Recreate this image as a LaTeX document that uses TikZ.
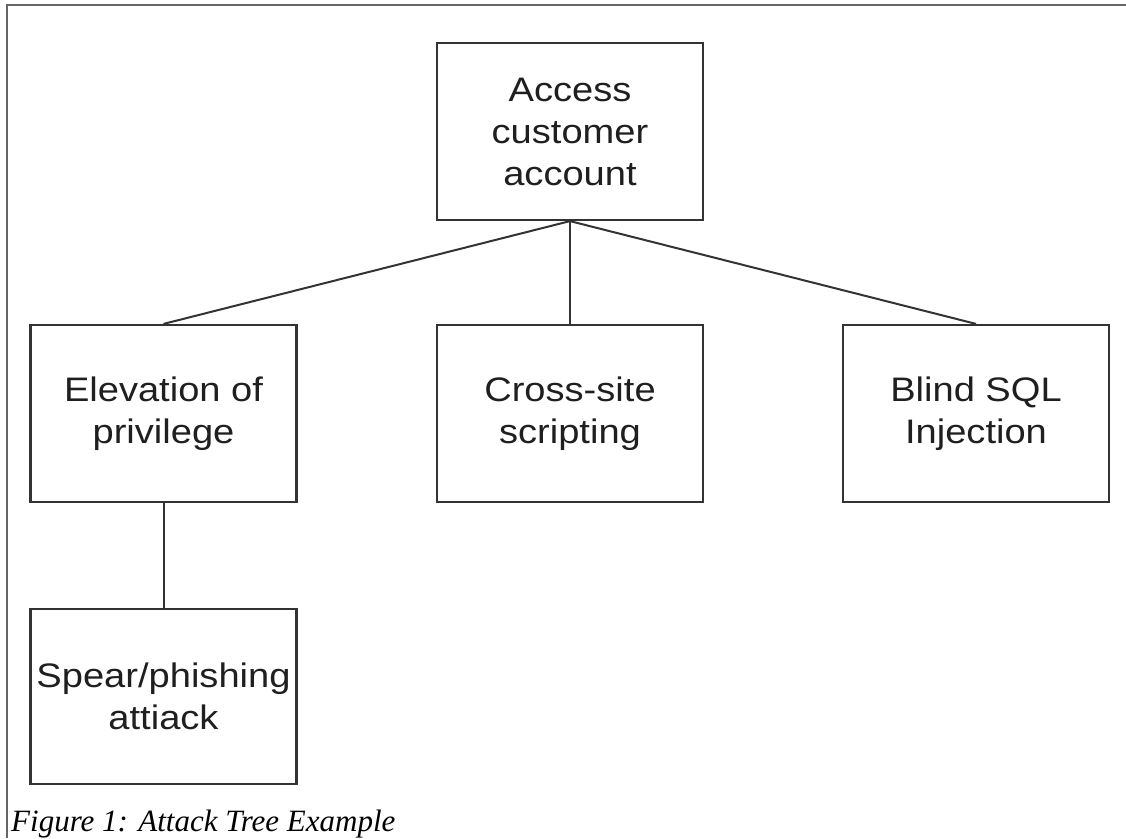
\documentclass[tikz,border=0pt]{standalone}
\usepackage{fontspec}
\setmainfont{Liberation Serif}
\newfontfamily\boxfont[FakeStretch=1.12]{Liberation Sans}
\definecolor{boxline}{HTML}{333333}
\definecolor{frameline}{HTML}{666666}

\begin{document}
\begin{tikzpicture}[x=1pt, y=-1pt,
	attack/.style={draw=boxline, line width=2.2pt, rectangle, minimum width=266pt, minimum height=177pt, inner sep=0pt, align=center, text=black!88, font=\boxfont\fontsize{34}{42}\selectfont},
	branch/.style={boxline, line width=2pt}]
				\useasboundingbox (0,0) rectangle (1126,838);
				\draw[frameline, line width=2.2pt] (7,838) -- (7,5) -- (1126,5);
				\node[attack] (A)at(570, 131.5) {Access\\customer\\account};
				\node[attack] (B)at(163.5, 413.5) {Elevation of\\privilege};
				\node[attack] (C)at(570, 413.5) {Cross-site\\scripting};
				\node[attack] (D)at(976, 413.5) {Blind SQL\\Injection};
				\node[attack, minimum height=175pt] (E)at(163.5, 696.5) {Spear/phishing\\attiack};
				\node[anchor=base west, inner sep=0pt, font=\itshape\fontsize{31}{38}\selectfont] (F)at(11, 831) {Figure 1: Attack Tree Example};
				\draw[branch] (A.south) -- (B.north);
				\draw[branch] (A.south) -- (C.north);
				\draw[branch] (A.south) -- (D.north);
				\draw[branch] (B.south) -- (E.north);
			\end{tikzpicture}
\end{document}
